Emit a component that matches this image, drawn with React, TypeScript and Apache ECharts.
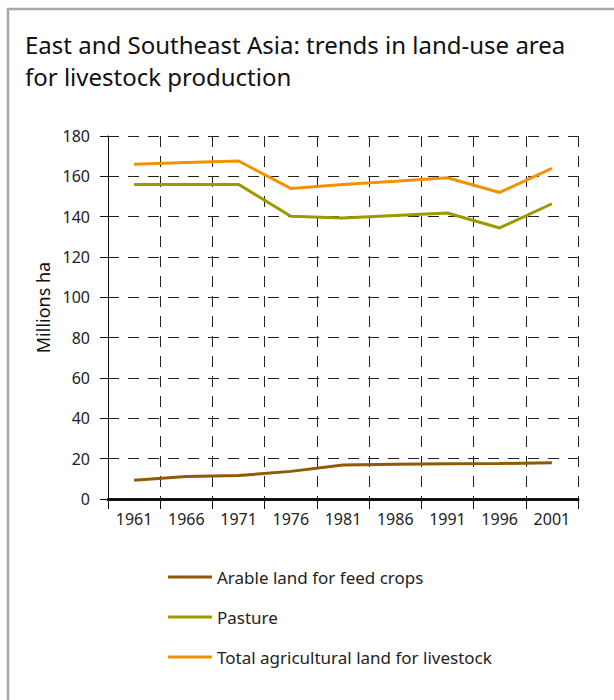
import React, { useEffect, useRef } from "react";
import * as echarts from "echarts";

const years = ["1961", "1966", "1971", "1976", "1981", "1986", "1991", "1996", "2001"];
const arable = [9.3, 11.1, 11.6, 13.7, 16.9, 17.2, 17.5, 17.6, 18.0];
const pasture = [156, 156, 156, 140.2, 139.3, 140.6, 141.8, 134.4, 146.4];
const total = [166, 166.8, 167.6, 154, 156, 157.6, 159.3, 152, 164];
const seriesNames = [
  "Arable land for feed crops",
  "Pasture",
  "Total agricultural land for livestock",
];
const colors = ["#8f5a06", "#9c9a00", "#f39200"];

const FONT = "Noto Sans";

export default function App() {
  const ref = useRef<HTMLDivElement>(null);
  useEffect(() => {
    document.body.style.margin = "0";
    const chart = echarts.init(ref.current!, null, { renderer: "svg" });
    const dataSets = [arable, pasture, total];
    chart.setOption({
      animation: false,
      backgroundColor: "#ffffff",
      textStyle: { fontFamily: FONT },
      title: {
        text: "East and Southeast Asia: trends in land-use area\nfor livestock production",
        left: 20,
        top: 23,
        textStyle: {
          fontFamily: FONT,
          fontSize: 24,
          fontWeight: "normal",
          color: "#111111",
          lineHeight: 32,
        },
      },
      graphic: [
        {
          type: "rect",
          shape: { x: 8, y: 9, width: 720, height: 800 },
          style: { fill: "none", stroke: "#a9a9a9", lineWidth: 2.5 },
          silent: true,
          z: 0,
        },
      ],
      legend: {
        orient: "vertical",
        left: 163,
        top: 562,
        icon: "rect",
        itemWidth: 44,
        itemHeight: 3,
        itemGap: 20,
        data: seriesNames,
        textStyle: {
          fontFamily: FONT,
          fontSize: 17,
          color: "#222222",
          lineHeight: 20,
        },
      },
      grid: { left: 108, top: 136, right: 36, bottom: 201 },
      xAxis: {
        type: "category",
        data: years,
        boundaryGap: true,
        axisLine: { show: true, lineStyle: { color: "#111111", width: 3 } },
        axisTick: { show: true, length: 10, lineStyle: { color: "#111111", width: 1 } },
        axisLabel: { color: "#222222", fontSize: 16, margin: 12, fontFamily: FONT },
        splitLine: {
          show: true,
          lineStyle: { color: "#222222", width: 1, type: [11, 9] },
        },
      },
      yAxis: {
        type: "value",
        min: 0,
        max: 180,
        interval: 20,
        name: "Millions ha",
        nameLocation: "middle",
        nameGap: 56,
        nameTextStyle: {
          color: "#111111",
          fontSize: 18,
          fontFamily: FONT,
          padding: [0, 0, 0, 20],
        },
        axisLine: { show: true, lineStyle: { color: "#111111", width: 1 } },
        axisTick: { show: true, length: 8, lineStyle: { color: "#111111", width: 1 } },
        axisLabel: { color: "#222222", fontSize: 16, margin: 18, fontFamily: FONT },
        splitLine: {
          show: true,
          lineStyle: { color: "#222222", width: 1, type: [11, 9] },
        },
      },
      series: seriesNames.map((name, i) => ({
        name,
        type: "line",
        data: dataSets[i],
        symbol: "none",
        color: colors[i],
        lineStyle: { color: colors[i], width: 3 },
        z: 3,
      })),
    });
    return () => chart.dispose();
  }, []);
  return <div ref={ref} style={{ width: 614, height: 700 }} />;
}
